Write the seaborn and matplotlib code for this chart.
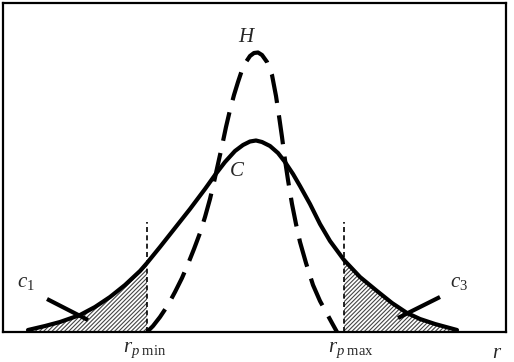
import matplotlib
matplotlib.use("Agg")
import matplotlib.pyplot as plt
import seaborn as sns
import numpy as np
import pandas as pd

# ---- data (x: position along r, y: height above baseline) ----
c_x = [28, 45, 60, 80, 95, 110, 125, 140, 147, 160, 175, 190, 205, 215, 225,
       235, 243, 250, 256, 262, 270, 278, 285, 293, 300, 310, 320, 330, 344,
       360, 377, 392, 407, 420, 435, 457]
c_y = [2, 6, 10, 17, 25, 35, 47, 61, 69, 85, 104, 123, 143, 157, 170,
       181, 187, 190.5, 191.5, 190, 186, 179, 170, 158, 146, 128, 108, 91, 72,
       55, 41, 29, 19, 13, 8, 2]

h_x = [147, 153, 160, 168, 175, 182, 188, 194, 200, 205, 210, 214, 218, 222,
       226, 230, 234, 238, 242, 246, 250, 254, 258, 262, 267, 272, 276, 279,
       282, 285, 288, 292, 296, 300, 306, 313, 320, 326, 332, 337]
h_y = [0, 6, 15, 27, 40, 54, 68, 83, 99, 115, 133, 150, 168, 186,
       205, 222, 237, 250, 262, 270, 276, 279, 279.5, 277, 270, 257, 236, 216,
       195, 172, 152, 128, 108, 90, 69, 47, 31, 20, 9, 0]

r_pmin = 147
r_pmax = 344
guide_top = 110

c1_line_x = [47, 88]
c1_line_y = [33, 12]
c3_line_x = [398, 440]
c3_line_y = [14, 35]

sns.set_theme(style="white")
plt.rcParams["font.family"] = ["Liberation Serif", "DejaVu Serif"]
plt.rcParams["mathtext.fontset"] = "custom"
plt.rcParams["mathtext.rm"] = "Liberation Serif"
plt.rcParams["mathtext.it"] = "Liberation Serif:italic"
plt.rcParams["hatch.linewidth"] = 0.8
plt.rcParams["hatch.color"] = "#444444"

fig = plt.figure(figsize=(5.14, 3.62), dpi=100)
ax = fig.add_axes([3 / 514, 30 / 362, 503 / 514, 329 / 362])

dfc = pd.DataFrame({"x": c_x, "y": c_y})
dfh = pd.DataFrame({"x": h_x, "y": h_y})

cx = np.array(c_x)
cy = np.array(c_y)
left = cx <= r_pmin
right = cx >= r_pmax
for m in (left, right):
    ax.fill_between(cx[m], 0, cy[m], facecolor="white", edgecolor="#444444",
                    hatch="////////", linewidth=0)

sns.lineplot(data=dfc, x="x", y="y", sort=False, color="black", linewidth=3.0,
             ax=ax)
sns.lineplot(data=dfh, x="x", y="y", sort=False, color="black", linewidth=3.0,
             ax=ax)
ax.lines[-1].set_linestyle((0, (7, 3)))
ax.lines[-1].set_dash_capstyle("butt")

for xv in (r_pmin, r_pmax):
    ax.plot([xv, xv], [0, guide_top], color="black", linewidth=1.2,
            linestyle=(0, (3, 2)))

ax.plot(c1_line_x, c1_line_y, color="black", linewidth=3.0, solid_capstyle="butt")
ax.plot(c3_line_x, c3_line_y, color="black", linewidth=3.0, solid_capstyle="butt")

ax.set_xlim(3, 506)
ax.set_ylim(0, 329)
ax.set_xticks([])
ax.set_yticks([])
ax.set_xlabel("")
ax.set_ylabel("")
for s in ax.spines.values():
    s.set_visible(True)
    s.set_color("black")
    s.set_linewidth(1.6)

fs = 15
ax.text(247, 332 - 38, "$H$", fontsize=fs, ha="center", va="center")
ax.text(237, 332 - 172, "$C$", fontsize=fs, ha="center", va="center")
ax.text(17, 332 - 282, "$c_1$", fontsize=fs, ha="left", va="center")
ax.text(450, 332 - 283, "$c_3$", fontsize=fs, ha="left", va="center")
ax.text(123, -8, r"$r_{p\ \mathrm{min}}$", fontsize=fs, ha="left", va="top",
        clip_on=False)
ax.text(328, -8, r"$r_{p\ \mathrm{max}}$", fontsize=fs, ha="left", va="top",
        clip_on=False)
ax.text(497, -12, "$r$", fontsize=fs, ha="center", va="top", clip_on=False)

fig.savefig("out.png", dpi=100)
